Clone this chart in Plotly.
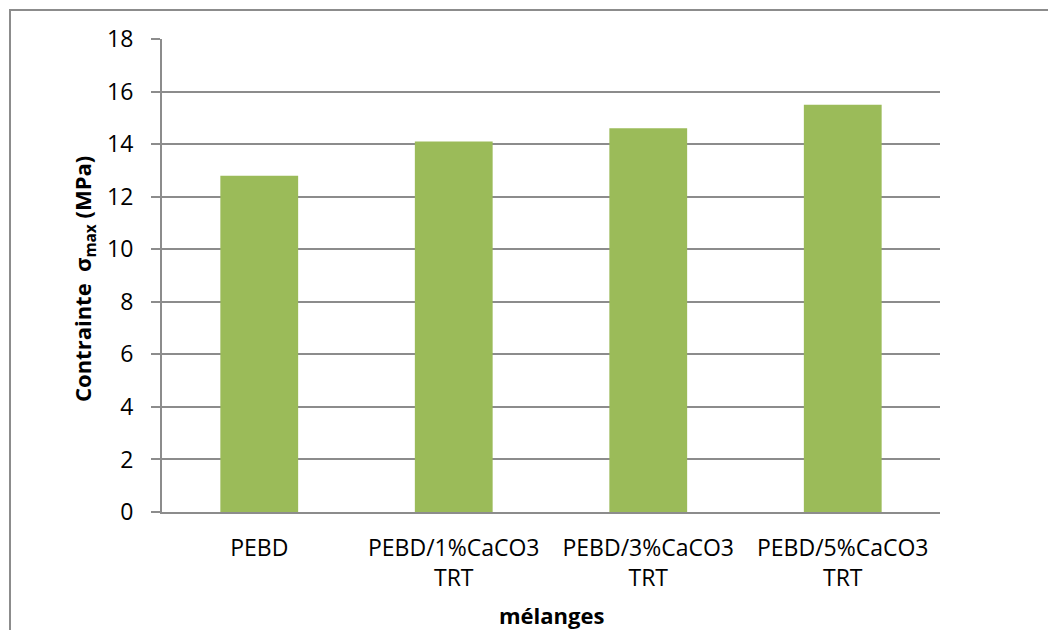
import plotly.graph_objects as go

# Mixtures tested and their maximum stress
categories = ["PEBD", "PEBD/1%CaCO3<br>TRT", "PEBD/3%CaCO3<br>TRT", "PEBD/5%CaCO3<br>TRT"]
sigma_max = [12.8, 14.1, 14.6, 15.5]
y_ticks = [0, 2, 4, 6, 8, 10, 12, 14, 16, 18]

W, H = 1048, 630
L, R, T, B = 162, 108, 39, 118
pw, ph = W - L - R, H - T - B

def px_x(p):
    return (p - L) / pw

def px_y(p):
    return (H - B - p) / ph

GRID = "#8c8c8c"
FONT = "Open Sans"

fig = go.Figure(
    go.Bar(
        x=categories,
        y=sigma_max,
        marker=dict(color="#9BBB59", line=dict(width=0)),
        width=0.4,
    )
)

fig.update_layout(
    width=W,
    height=H,
    margin=dict(l=L, r=R, t=T, b=B),
    paper_bgcolor="white",
    plot_bgcolor="white",
    showlegend=False,
    font=dict(family=FONT, size=23, color="black"),
    xaxis=dict(
        showline=True,
        linecolor=GRID,
        linewidth=2,
        ticks="",
        tickfont=dict(size=23),
        ticklabelstandoff=14,
        showgrid=False,
    ),
    yaxis=dict(
        range=[0, 18],
        tickvals=y_ticks,
        showline=True,
        linecolor=GRID,
        linewidth=2,
        ticks="outside",
        ticklen=9,
        tickcolor=GRID,
        tickwidth=2,
        showgrid=True,
        gridcolor=GRID,
        gridwidth=2,
        zeroline=False,
        tickfont=dict(size=23),
        ticklabelstandoff=13,
    ),
    shapes=[
        dict(
            type="rect", xref="paper", yref="paper",
            x0=px_x(10), x1=px_x(1070), y0=px_y(650), y1=px_y(10),
            line=dict(color=GRID, width=2), fillcolor="rgba(0,0,0,0)",
            layer="below",
        )
    ],
    annotations=[
        dict(
            text="<b>Contrainte  σ<sub>max</sub> (MPa)</b>",
            xref="paper", yref="paper",
            x=px_x(84), y=px_y(279),
            xanchor="center", yanchor="middle",
            textangle=-90, showarrow=False,
            font=dict(size=22, family=FONT),
        ),
        dict(
            text="<b>mélanges</b>",
            xref="paper", yref="paper",
            x=px_x(551), y=px_y(615),
            xanchor="center", yanchor="middle",
            showarrow=False,
            font=dict(size=22, family=FONT),
        ),
    ],
)

fig.write_html("out.html")
